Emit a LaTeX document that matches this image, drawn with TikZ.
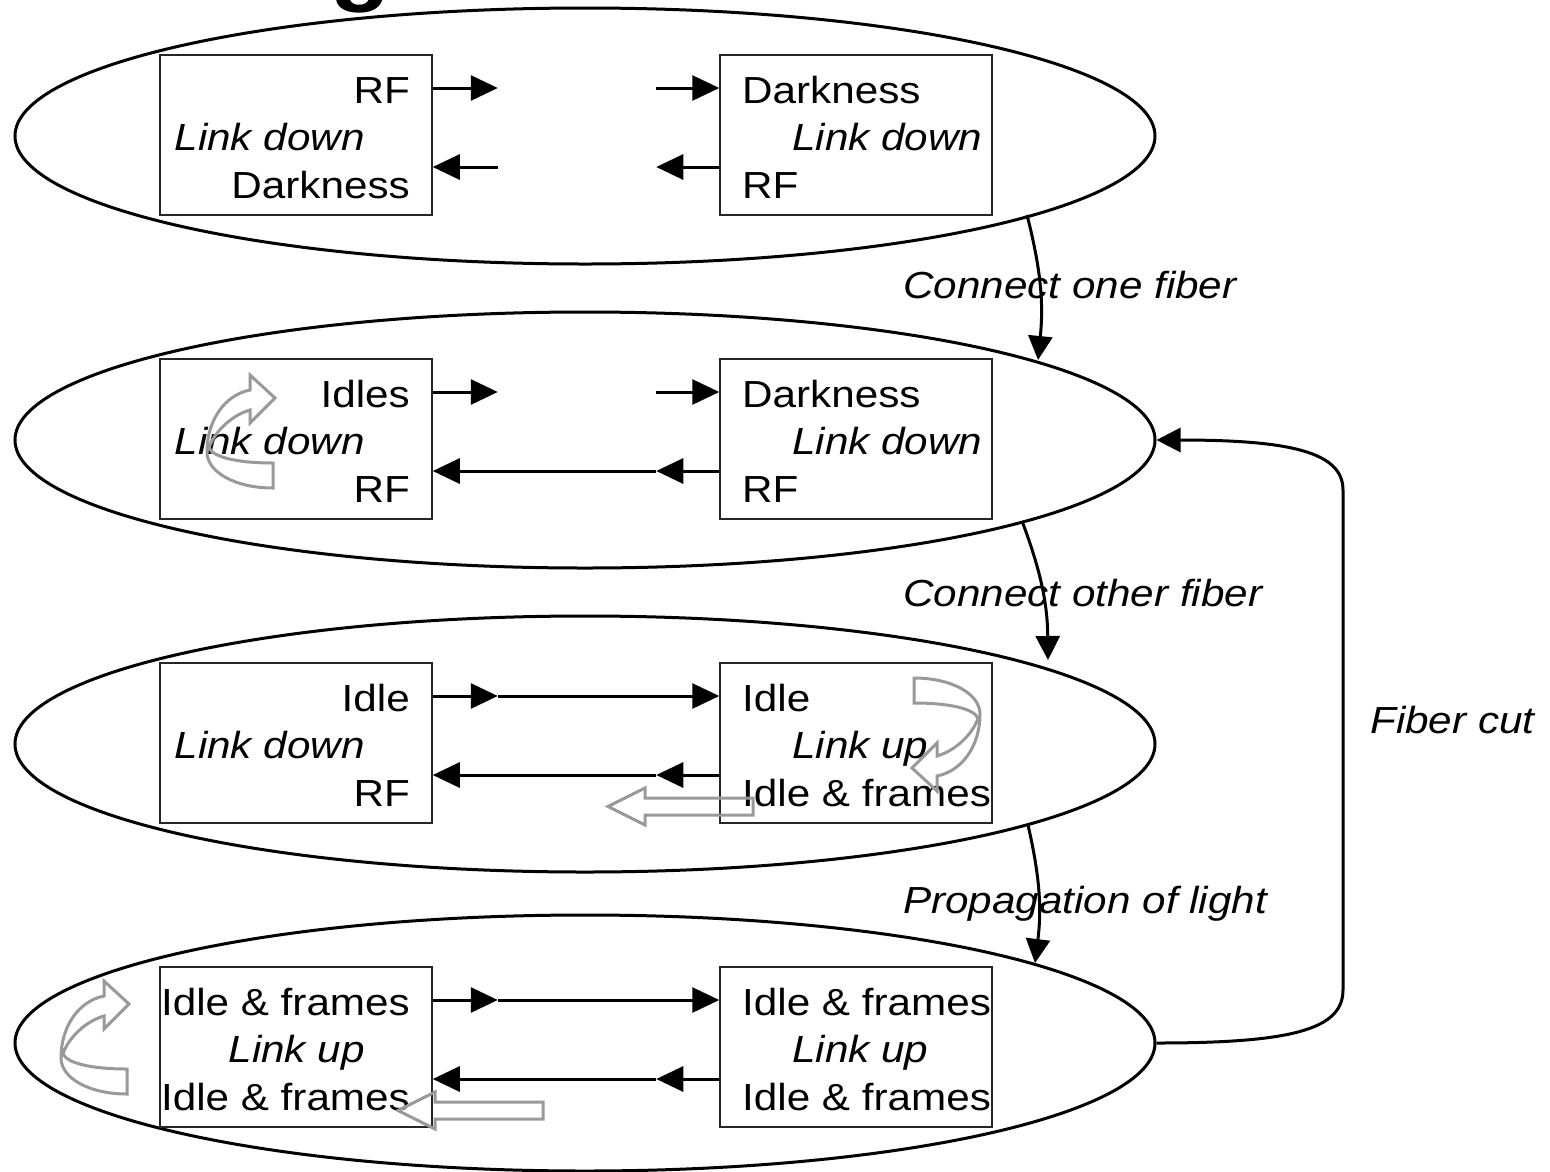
\documentclass[tikz,border=0pt]{standalone}
\usepackage{fontspec}
\setmainfont{Liberation Sans}[FakeStretch=1.12]
\usetikzlibrary{shapes.geometric,arrows.meta,calc}
\begin{document}
\begin{tikzpicture}[x=1pt,y=-1pt,
  txt/.style={inner sep=0pt, font=\fontsize{37.7}{45}\selectfont},
  lbl/.style={inner sep=0pt, font=\fontsize{37.7}{45}\selectfont\itshape},
  state/.style={ellipse, draw, line width=3pt, minimum width=1140pt, minimum height=256pt, inner sep=0pt},
  box/.style={rectangle, draw=black!85, line width=1.5pt, minimum width=272pt, minimum height=160pt, inner sep=0pt},
  arr/.style={line width=3pt, -{Triangle[length=27pt,width=25pt]}},
  conn/.style={line width=3pt, -{Triangle[length=24pt,width=24pt]}},
  ghost/.style={draw=black!40, line width=3pt, line join=miter}]
\useasboundingbox (0,0) rectangle (1550,1171);

% clipped descender of the heading above
\begin{scope}
  \clip (0,0) rectangle (1550,1171);
  \node[inner sep=0pt, anchor=base, font=\fontsize{88}{90}\selectfont\bfseries] (ttl) at (361,-6) {g};
\end{scope}

% the four link states
\node[state] (e1) at (585,136) {};
\node[state] (e2) at (585,440) {};
\node[state] (e3) at (585,744) {};
\node[state] (e4) at (585,1043) {};

% the two ports of each state
\foreach \k/\c in {1/135,2/439,3/743,4/1047}{
  \node[box] (L\k) at (296,\c) {};
  \node[box] (R\k) at (856,\c) {};
}
\foreach \k in {1,...,4}{
  \coordinate (Lo\k) at ([yshift=47pt]L\k.east);
  \coordinate (Li\k) at ([yshift=-32pt]L\k.east);
  \coordinate (Ri\k) at ([yshift=47pt]R\k.west);
  \coordinate (Ro\k) at ([yshift=-32pt]R\k.west);
  \coordinate (La\k) at ([xshift=65pt]Lo\k);
  \coordinate (Lb\k) at ([xshift=65pt]Li\k);
  \coordinate (Ra\k) at ([xshift=-63pt]Ri\k);
  \coordinate (Rb\k) at ([xshift=-63pt]Ro\k);
}

% port texts
\node[txt, anchor=base east] (l1a) at (410,103.3) {RF};
\node[lbl, anchor=base east] (l1b) at (365,150) {Link down};
\node[txt, anchor=base east] (l1c) at (410,198.3) {Darkness};
\node[txt, anchor=base west] (r1a) at (742,103.3) {Darkness};
\node[lbl, anchor=base west] (r1b) at (792,150) {Link down};
\node[txt, anchor=base west] (r1c) at (742,198.3) {RF};

\node[txt, anchor=base east] (l2a) at (410,407.3) {Idles};
\node[lbl, anchor=base east] (l2b) at (365,454) {Link down};
\node[txt, anchor=base east] (l2c) at (410,502.3) {RF};
\node[txt, anchor=base west] (r2a) at (742,407.3) {Darkness};
\node[lbl, anchor=base west] (r2b) at (792,454) {Link down};
\node[txt, anchor=base west] (r2c) at (742,502.3) {RF};

\node[txt, anchor=base east] (l3a) at (410,711.3) {Idle};
\node[lbl, anchor=base east] (l3b) at (365,758) {Link down};
\node[txt, anchor=base east] (l3c) at (410,806.3) {RF};
\node[txt, anchor=base west] (r3a) at (742,711.3) {Idle};
\node[lbl, anchor=base west] (r3b) at (792,758) {Link up};
\node[txt, anchor=base west] (r3c) at (742,806.3) {Idle \& frames};

\node[txt, anchor=base east] (l4a) at (410,1015.3) {Idle \& frames};
\node[lbl, anchor=base east] (l4b) at (365,1062) {Link up};
\node[txt, anchor=base east] (l4c) at (410,1110.3) {Idle \& frames};
\node[txt, anchor=base west] (r4a) at (742,1015.3) {Idle \& frames};
\node[lbl, anchor=base west] (r4b) at (792,1062) {Link up};
\node[txt, anchor=base west] (r4c) at (742,1110.3) {Idle \& frames};

% signals on the fibers
\draw[arr] (Lo1) -- (La1);
\draw[arr] (Ra1) -- (Ri1);
\draw[arr] (Lb1) -- (Li1);
\draw[arr] (Ro1) -- (Rb1);

\draw[arr] (Lo2) -- (La2);
\draw[arr] (Ra2) -- (Ri2);
\draw[arr] (Ro2) -- (Rb2);
\draw[arr] (Rb2) -- (Li2);

\foreach \k in {3,4}{
  \draw[arr] (Lo\k) -- (La\k);
  \draw[arr] (La\k) -- (Ri\k);
  \draw[arr] (Ro\k) -- (Rb\k);
  \draw[arr] (Rb\k) -- (Li\k);
}

% transitions
\coordinate (s1) at ($(e1.center)+(442,79)$);
\coordinate (d1) at ($(e2.center)+(453,-80)$);
\coordinate (s2) at ($(e2.center)+(437,81)$);
\coordinate (d2) at ($(e3.center)+(463,-84)$);
\coordinate (s3) at ($(e3.center)+(443,81)$);
\coordinate (d3) at ($(e4.center)+(450,-80)$);
\draw[conn] (s1) to[bend left=10] (d1);
\draw[conn] (s2) to[bend left=10] (d2);
\draw[conn] (s3) to[bend left=10] (d3);
\draw[conn] (e4.east) .. controls (1290,1043) and (1343,1030) .. (1343,990)
  -- (1343,490) .. controls (1343,452) and (1290,440) .. (e2.east);

\node[lbl, anchor=base west] (t1) at (903,298) {Connect one fiber};
\node[lbl, anchor=base west] (t2) at (903,606) {Connect other fiber};
\node[lbl, anchor=base west] (t3) at (903,913) {Propagation of light};
\node[lbl, anchor=base west] (t4) at (1370,733) {Fiber cut};

% grey hollow arrows: turning around and sending back
\def\turnarrow{(273,488) .. controls (235,488) and (207,472) .. (207,452)
  .. controls (207,420) and (225,395) .. (250,390) -- (250,375) -- (275,398)
  -- (250,423) -- (250,410) .. controls (232,415) and (214,432) .. (209,448)
  .. controls (214,458) and (240,463) .. (273,463) -- cycle}
\def\backarrow{(753,798) -- (753,815) -- (645,815) -- (645,825) -- (608,806.5)
  -- (645,788) -- (645,798) -- cycle}
\draw[ghost] \turnarrow;
\begin{scope}[shift={(-146,606)}]
  \draw[ghost] \turnarrow;
\end{scope}
\begin{scope}[rotate around={180:(593.5,583)}]
  \draw[ghost] \turnarrow;
\end{scope}
\draw[ghost] \backarrow;
\begin{scope}[shift={(-210,304)}]
  \draw[ghost] \backarrow;
\end{scope}
\end{tikzpicture}
\end{document}
